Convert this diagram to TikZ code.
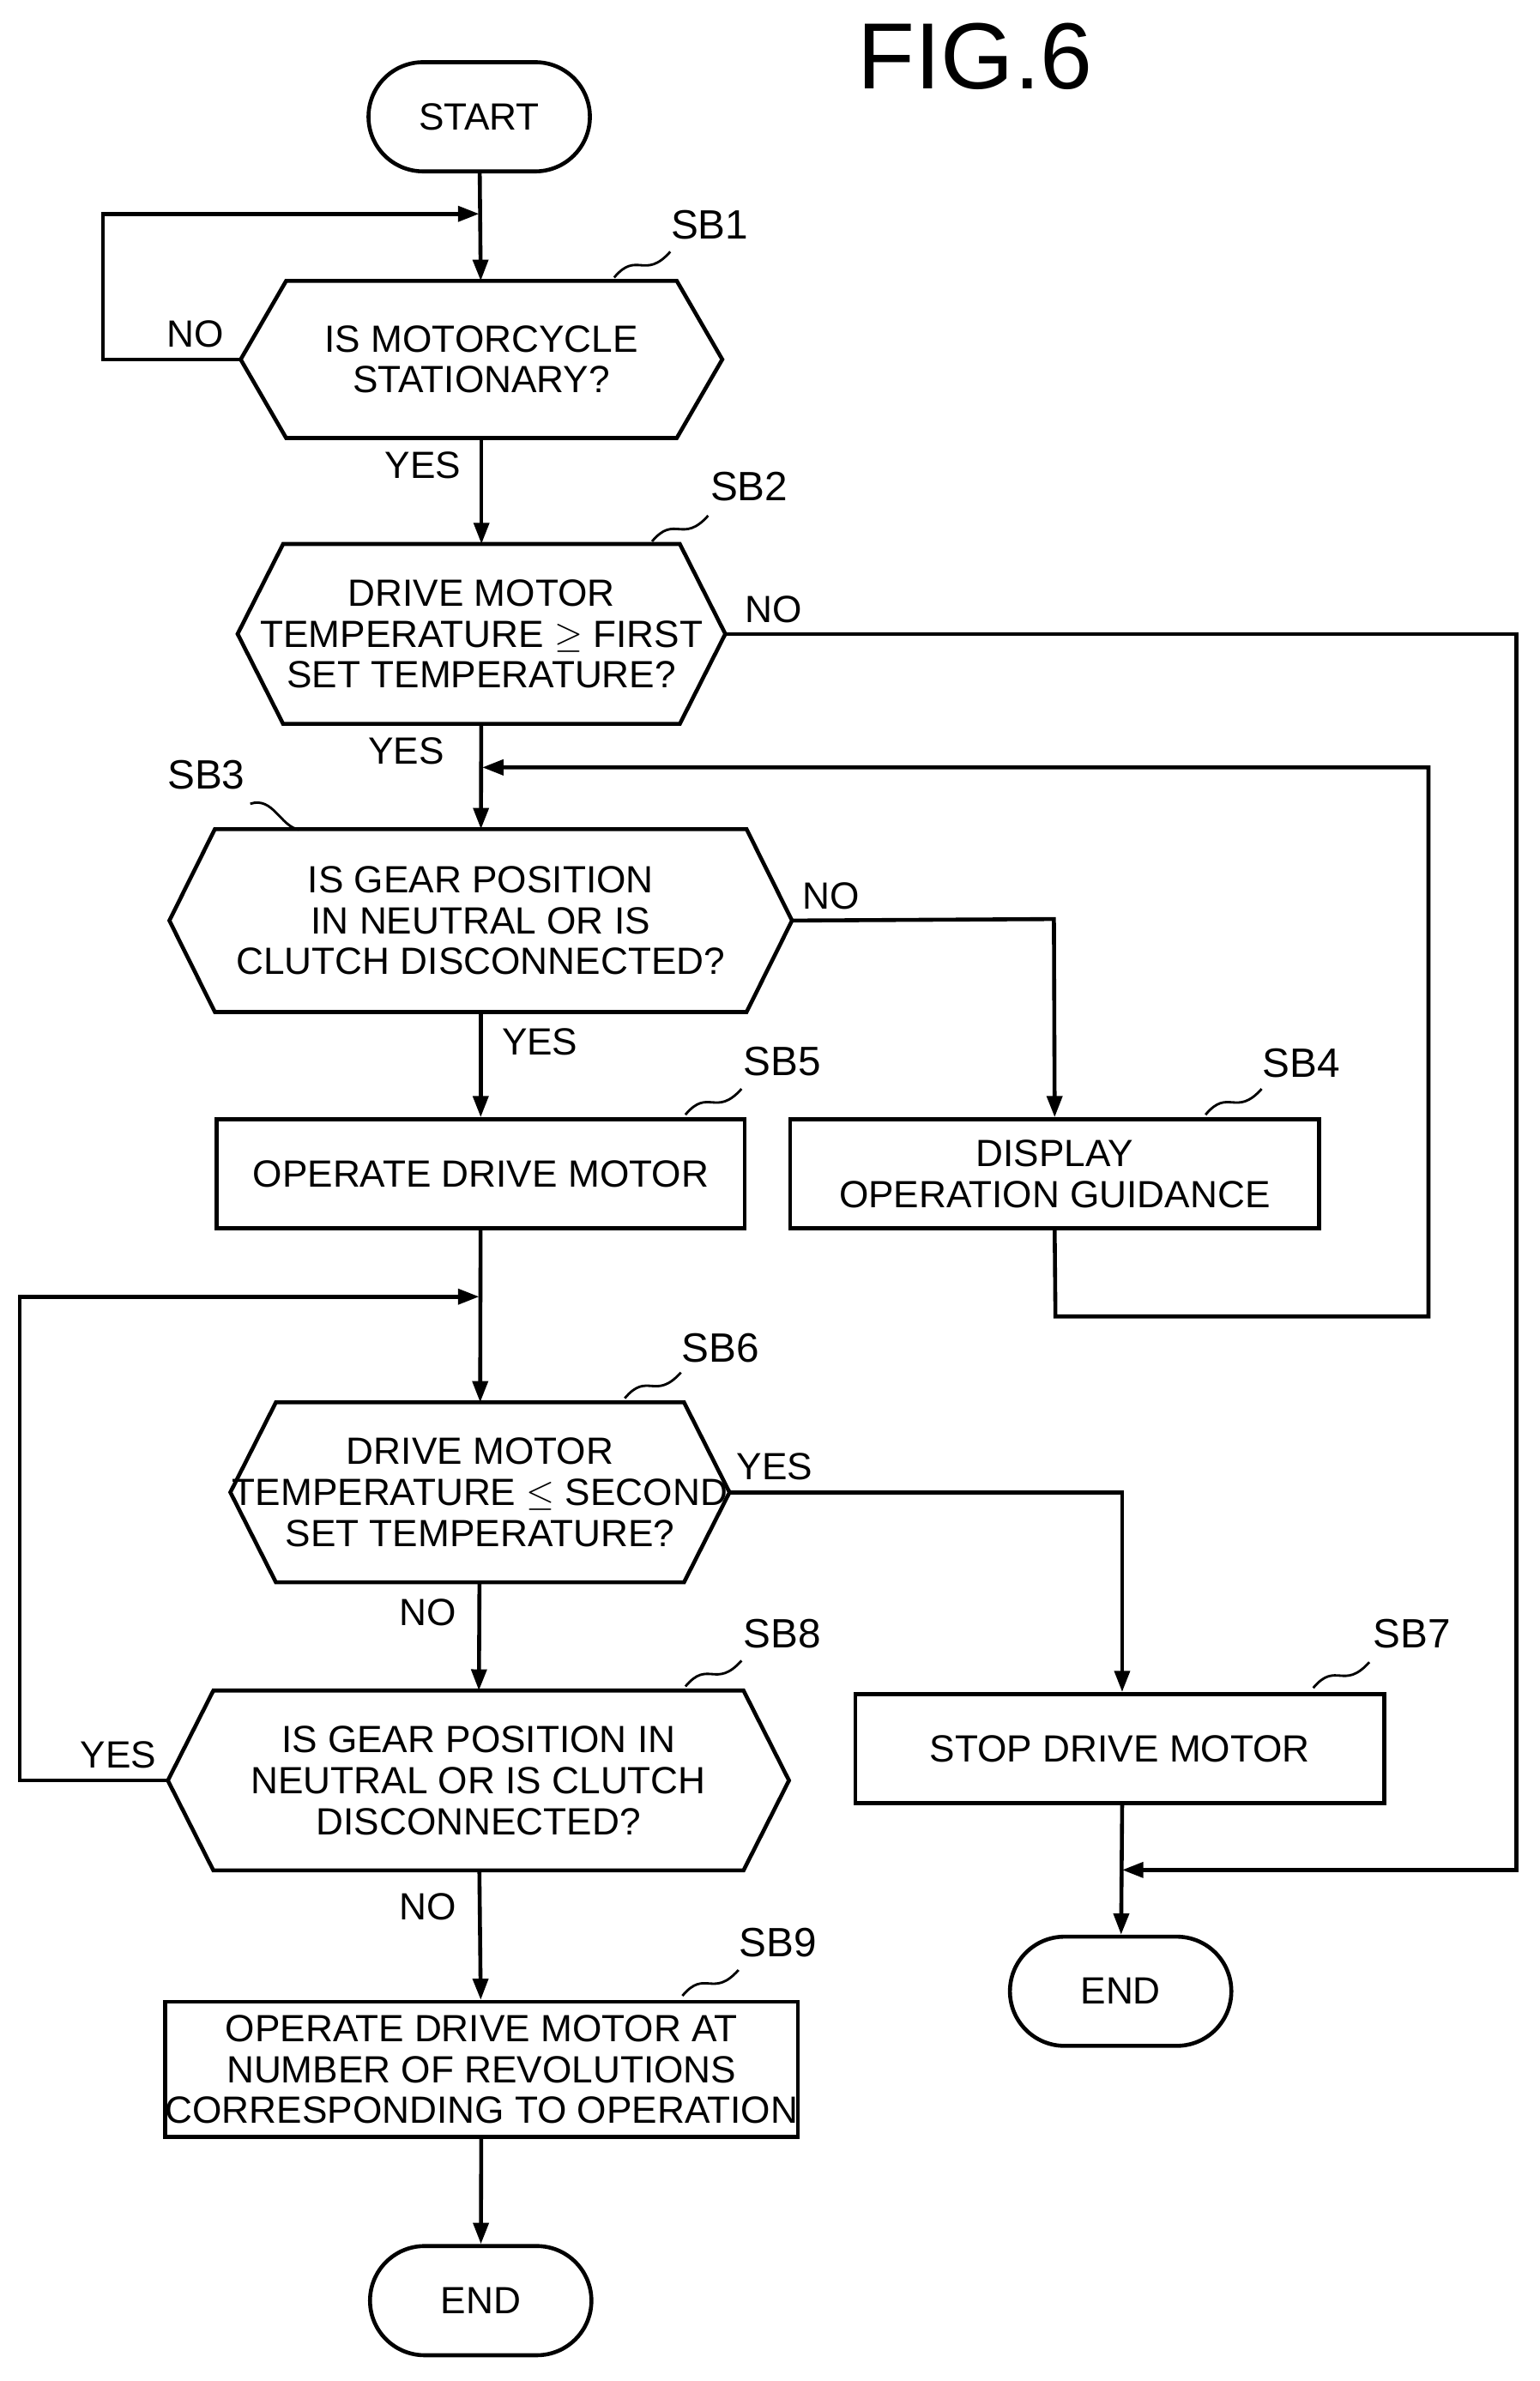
\documentclass[tikz,border=0pt]{standalone}
\usepackage{fontspec}
\setmainfont{Liberation Sans}
\usetikzlibrary{arrows.meta,shapes.misc}
\begin{document}
\begin{tikzpicture}[x=0.5pt,y=-0.5pt,line width=1.3pt,
  txt/.style={font=\fontsize{12.5}{13.5}\selectfont,align=center,inner sep=0},
  term/.style={txt,draw,rounded rectangle,minimum width=73pt,minimum height=36pt},
  box/.style={txt,draw,minimum height=36pt},
  hexa/.style={txt,draw=none},
  lab/.style={font=\fontsize{13.5}{14}\selectfont,inner sep=0},
  arr/.style={-{Triangle[length=7pt,width=5pt]}},
  wv/.style={line width=0.8pt}]
\useasboundingbox (0,0) rectangle (1015,1570);
\def\hex#1{\draw ([xshift=15pt]#1.north west) -- ([xshift=-15pt]#1.north east) -- (#1.east) -- ([xshift=-15pt]#1.south east) -- ([xshift=15pt]#1.south west) -- (#1.west) -- cycle;}
\node[font=\fontsize{31}{32}\selectfont] (fig) at (643,37) {FIG.6};
\node[term] (start) at (316,77) {START};
\node[hexa,minimum width=157.5pt,minimum height=50.5pt] (sb1) at (317.5,237) {IS MOTORCYCLE\\STATIONARY?};\hex{sb1}
\node[hexa,minimum width=159.5pt,minimum height=58pt] (sb2) at (317.5,418) {DRIVE MOTOR\\TEMPERATURE $\geq$ FIRST\\SET TEMPERATURE?};\hex{sb2}
\node[hexa,minimum width=204pt,minimum height=59pt] (sb3) at (317,607) {IS GEAR POSITION\\IN NEUTRAL OR IS\\CLUTCH DISCONNECTED?};\hex{sb3}
\node[box,minimum width=174pt] (sb5) at (317,774) {OPERATE DRIVE MOTOR};
\node[box,minimum width=174.5pt] (sb4) at (695.5,774) {DISPLAY\\OPERATION GUIDANCE};
\node[hexa,minimum width=159.5pt,minimum height=58pt] (sb6) at (316.5,984) {DRIVE MOTOR\\TEMPERATURE $\leq$ SECOND\\SET TEMPERATURE?};\hex{sb6}
\node[hexa,minimum width=203.5pt,minimum height=58pt] (sb8) at (315.5,1174) {IS GEAR POSITION IN\\NEUTRAL OR IS CLUTCH\\DISCONNECTED?};\hex{sb8}
\node[box,minimum width=174.5pt] (sb7) at (738.5,1153) {STOP DRIVE MOTOR};
\node[term] (end2) at (739,1313) {END};
\node[box,minimum width=190.5pt,minimum height=44.5pt] (sb9) at (317.5,1364.5) {OPERATE DRIVE MOTOR AT\\NUMBER OF REVOLUTIONS\\CORRESPONDING TO OPERATION};
\node[term] (end1) at (317,1517) {END};
% step labels
\node[lab] (l1) at (468,148) {SB1};
\node[lab] (l2) at (494,321) {SB2};
\node[lab] (l3) at (136,511) {SB3};
\node[lab] (l5) at (516,700) {SB5};
\node[lab] (l4) at (858,701) {SB4};
\node[lab] (l6) at (475,889) {SB6};
\node[lab] (l8) at (516,1077) {SB8};
\node[lab] (l7) at (931,1077) {SB7};
\node[lab] (l9) at (513,1281) {SB9};
\draw[wv] (405,183) .. controls (420,165) and (425,185) .. (442,166);
\draw[wv] (430,357) .. controls (445,339) and (450,359) .. (467,340);
\draw[wv] (165,530) .. controls (180,525) and (185,545) .. (197,547);
\draw[wv] (452,735) .. controls (467,717) and (472,737) .. (489,718);
\draw[wv] (795,735) .. controls (810,717) and (815,737) .. (832,718);
\draw[wv] (412,922) .. controls (427,904) and (432,924) .. (449,905);
\draw[wv] (452,1112) .. controls (467,1094) and (472,1114) .. (489,1095);
\draw[wv] (866,1113) .. controls (881,1095) and (886,1115) .. (903,1096);
\draw[wv] (450,1316) .. controls (465,1298) and (470,1318) .. (487,1299);
% connectors
\coordinate (j1) at (316,141);
\coordinate (j2) at (318,506);
\coordinate (j3) at (316,855);
\coordinate (j4) at (740,1233);
\draw[arr] (start) -- (sb1);
\draw[arr] (sb1.west) -- (68,237) -- (68,141) -- (j1);
\draw[arr] (sb1) -- (sb2);
\draw[arr] (sb2) -- (sb3);
\draw[arr] (sb2.east) -- (1000,418) -- (1000,1233) -- (j4);
\draw[arr] (sb4.south) -- (696,868) -- (942,868) -- (942,506) -- (j2);
\draw[arr] (sb3.east) -- (695,606) -- (sb4.north);
\draw[arr] (sb3) -- (sb5);
\draw[arr] (sb5) -- (sb6);
\draw[arr] (sb8.west) -- (13,1174) -- (13,855) -- (j3);
\draw[arr] (sb6.east) -- (740,984) -- (sb7.north-|740,0);
\draw[arr] (sb6) -- (sb8);
\draw[arr] (sb7.south-|740,0) -- (end2);
\draw[arr] (sb8) -- (sb9);
\draw[arr] (sb9) -- (end1);
% branch labels
\node[txt] (n1) at (129,220) {NO};
\node[txt] (y1) at (279,307) {YES};
\node[txt] (n2) at (510,402) {NO};
\node[txt] (y2) at (268,495) {YES};
\node[txt] (n3) at (548,591) {NO};
\node[txt] (y3) at (356,687) {YES};
\node[txt] (y6) at (511,967) {YES};
\node[txt] (n6) at (282,1063) {NO};
\node[txt] (y8) at (78,1157) {YES};
\node[txt] (n8) at (282,1257) {NO};
\end{tikzpicture}
\end{document}
